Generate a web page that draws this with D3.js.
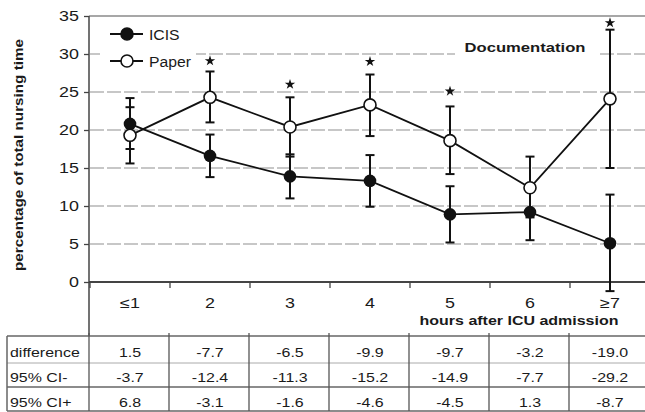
<!DOCTYPE html>
<html><head><meta charset="utf-8">
<script src="https://cdn.jsdelivr.net/npm/d3@7"></script>
<style>body{margin:0;background:#fff}svg{display:block;font-family:"Liberation Sans",Arial,sans-serif}</style>
</head><body>
<script>
const categories = ["≤1","2","3","4","5","6","≥7"];
const icis    = [20.8, 16.6, 13.9, 13.3, 8.9, 9.2, 5.1];
const icisLo  = [17.5, 13.8, 11.0, 9.9, 5.2, 5.5, -1.2];
const icisHi  = [24.2, 19.4, 16.8, 16.7, 12.6, 12.9, 11.5];
const paper   = [19.3, 24.3, 20.4, 23.3, 18.6, 12.4, 24.1];
const paperLo = [15.6, 21.0, 16.5, 19.2, 14.2, 8.5, 15.0];
const paperHi = [23.0, 27.7, 24.3, 27.3, 23.1, 16.5, 33.2];
const starAt  = [null, 29.1, 26.0, 29.0, 25.1, null, 34.1];
const yTicks  = [0,5,10,15,20,25,30,35];
const rowLabels = ["difference","95% CI-","95% CI+"];
const difference = ["1.5","-7.7","-6.5","-9.9","-9.7","-3.2","-19.0"];
const ciLow  = ["-3.7","-12.4","-11.3","-15.2","-14.9","-7.7","-29.2"];
const ciHigh = ["6.8","-3.1","-1.6","-4.6","-4.5","1.3","-8.7"];

const W=645,H=412;
const svg=d3.select("body").append("svg").attr("width",W).attr("height",H);
const x=d3.scaleBand().domain(categories).range([90,650]).padding(0);
const cx=c=>x(c)+x.bandwidth()/2;
const y=d3.scaleLinear().domain([0,35]).range([282,16]);
const tableTop=336;

function txt(g,xx,yy,s,size,sx,opts={}){
  const t=g.append("g").attr("transform",`translate(${xx},${yy}) scale(${sx},1)`)
   .append("text").attr("x",0).attr("y",0).text(s)
   .attr("font-size",size).attr("fill",opts.fill||"#1a1a1a")
   .attr("text-anchor",opts.anchor||"middle")
   .attr("font-weight",opts.weight||"normal");
  if(opts.db) t.attr("dominant-baseline",opts.db);
  return t;
}

// gridlines
svg.append("g").selectAll("line").data(yTicks.filter(v=>v>0&&v<35)).join("line")
 .attr("x1",90).attr("x2",W).attr("y1",d=>y(d)).attr("y2",d=>y(d))
 .attr("stroke","#b5b5b5").attr("stroke-width",1.3).attr("stroke-dasharray","14,3");
// top border
svg.append("line").attr("x1",89).attr("x2",W).attr("y1",y(35)).attr("y2",y(35)).attr("stroke","#8a8a8a").attr("stroke-width",1.5);

// white boxes behind legend and title
svg.append("rect").attr("x",100).attr("y",22).attr("width",96).attr("height",50).attr("fill","#fff");
svg.append("rect").attr("x",455).attr("y",36).attr("width",142).attr("height",22).attr("fill","#fff");

// y axis
const yAxis=svg.append("g").attr("transform","translate(89,0)")
 .call(d3.axisLeft(y).tickValues(yTicks).tickSize(5).tickPadding(5).tickFormat(d3.format("d")));
yAxis.select(".domain").remove();
yAxis.selectAll(".tick line").attr("stroke","#444").attr("stroke-width",1.3);
yAxis.selectAll(".tick text").remove();
yTicks.forEach(v=>txt(svg,79,y(v)+5,String(v),14,1.28,{anchor:"end"}));
svg.append("line").attr("x1",89).attr("x2",89).attr("y1",y(35)).attr("y2",tableTop).attr("stroke","#444").attr("stroke-width",1.5);

// x axis
const xAxis=svg.append("g").attr("transform",`translate(0,${y(0)})`)
 .call(d3.axisBottom(x).tickSize(0).tickFormat(""));
xAxis.select(".domain").remove();
svg.append("line").attr("x1",89).attr("x2",W).attr("y1",y(0)).attr("y2",y(0)).attr("stroke","#444").attr("stroke-width",1.8);
svg.append("g").selectAll("line").data(categories).join("line")
 .attr("x1",d=>x(d)).attr("x2",d=>x(d)).attr("y1",y(0)).attr("y2",y(0)+6)
 .attr("stroke","#444").attr("stroke-width",1.3);
categories.forEach(c=>txt(svg,cx(c),308,c,14,1.28));

// error bars
function errBars(lo,hi){
  const g=svg.append("g").attr("stroke","#111").attr("stroke-width",2);
  categories.forEach((c,i)=>{
    g.append("line").attr("x1",cx(c)).attr("x2",cx(c)).attr("y1",y(lo[i])).attr("y2",y(hi[i]));
    [lo[i],hi[i]].forEach(v=>g.append("line").attr("x1",cx(c)-4.5).attr("x2",cx(c)+4.5).attr("y1",y(v)).attr("y2",y(v)));
  });
}
errBars(icisLo,icisHi);
errBars(paperLo,paperHi);

// lines
const line=d3.line().x((d,i)=>cx(categories[i])).y(d=>y(d));
svg.append("path").datum(icis).attr("d",line).attr("fill","none").attr("stroke","#111").attr("stroke-width",1.8);
svg.append("path").datum(paper).attr("d",line).attr("fill","none").attr("stroke","#111").attr("stroke-width",1.8);

// markers
svg.append("g").selectAll("circle").data(icis).join("circle")
 .attr("cx",(d,i)=>cx(categories[i])).attr("cy",d=>y(d)).attr("r",6.3).attr("fill","#111");
svg.append("g").selectAll("circle").data(paper).join("circle")
 .attr("cx",(d,i)=>cx(categories[i])).attr("cy",d=>y(d)).attr("r",6).attr("fill","#fff").attr("stroke","#111").attr("stroke-width",1.6);

// stars
svg.append("g").selectAll("path").data(starAt.map((v,i)=>({v,c:categories[i]})).filter(d=>d.v!=null)).join("path")
 .attr("d",d3.symbol().type(d3.symbolStar).size(34))
 .attr("transform",d=>`translate(${cx(d.c)},${y(d.v)})`).attr("fill","#111");

// legend
const lg=svg.append("g");
[[34,true,"ICIS"],[61,false,"Paper"]].forEach(([ly,filled,lab])=>{
  lg.append("line").attr("x1",110).attr("x2",143).attr("y1",ly).attr("y2",ly).attr("stroke","#111").attr("stroke-width",1.8);
  lg.append("circle").attr("cx",127).attr("cy",ly).attr("r",6).attr("fill",filled?"#111":"#fff").attr("stroke","#111").attr("stroke-width",1.6);
  txt(lg,149,ly+5.5,lab,15,1.05,{anchor:"start"});
});

// texts
txt(svg,525,52,"Documentation",12.8,1.3,{weight:"bold"});
txt(svg,519,325,"hours after ICU admission",12.8,1.25,{weight:"bold"});
svg.append("text").attr("transform","translate(23,155) rotate(-90)").attr("text-anchor","middle")
 .attr("font-size",12.5).attr("font-weight","bold").attr("fill","#1a1a1a")
 .attr("textLength",232).attr("lengthAdjust","spacingAndGlyphs").text("percentage of total nursing time");

// table
const tg=svg.append("g");
const rows=[difference,ciLow,ciHigh];
const rowBase=[357,382,407];
tg.append("line").attr("x1",7).attr("x2",W).attr("y1",tableTop).attr("y2",tableTop).attr("stroke","#666").attr("stroke-width",1.5);
tg.append("line").attr("x1",7).attr("x2",W).attr("y1",363).attr("y2",363).attr("stroke","#aaa").attr("stroke-width",1);
tg.append("line").attr("x1",7).attr("x2",W).attr("y1",387).attr("y2",387).attr("stroke","#666").attr("stroke-width",1.5);
tg.append("line").attr("x1",7).attr("x2",W).attr("y1",411).attr("y2",411).attr("stroke","#666").attr("stroke-width",1.5);
tg.append("line").attr("x1",7).attr("x2",7).attr("y1",tableTop).attr("y2",411).attr("stroke","#666").attr("stroke-width",1.5);
tg.selectAll("line.v").data(categories).join("line").attr("class","v")
 .attr("x1",d=>x(d)-1).attr("x2",d=>x(d)-1).attr("y1",tableTop-3).attr("y2",411).attr("stroke","#555").attr("stroke-width",1.3);
rowLabels.forEach((r,j)=>txt(tg,10,rowBase[j],r,12,1.33,{anchor:"start"}));
rows.forEach((vals,j)=>categories.forEach((c,i)=>txt(tg,cx(c),rowBase[j],vals[i],12,1.33)));
</script>
</body></html>
